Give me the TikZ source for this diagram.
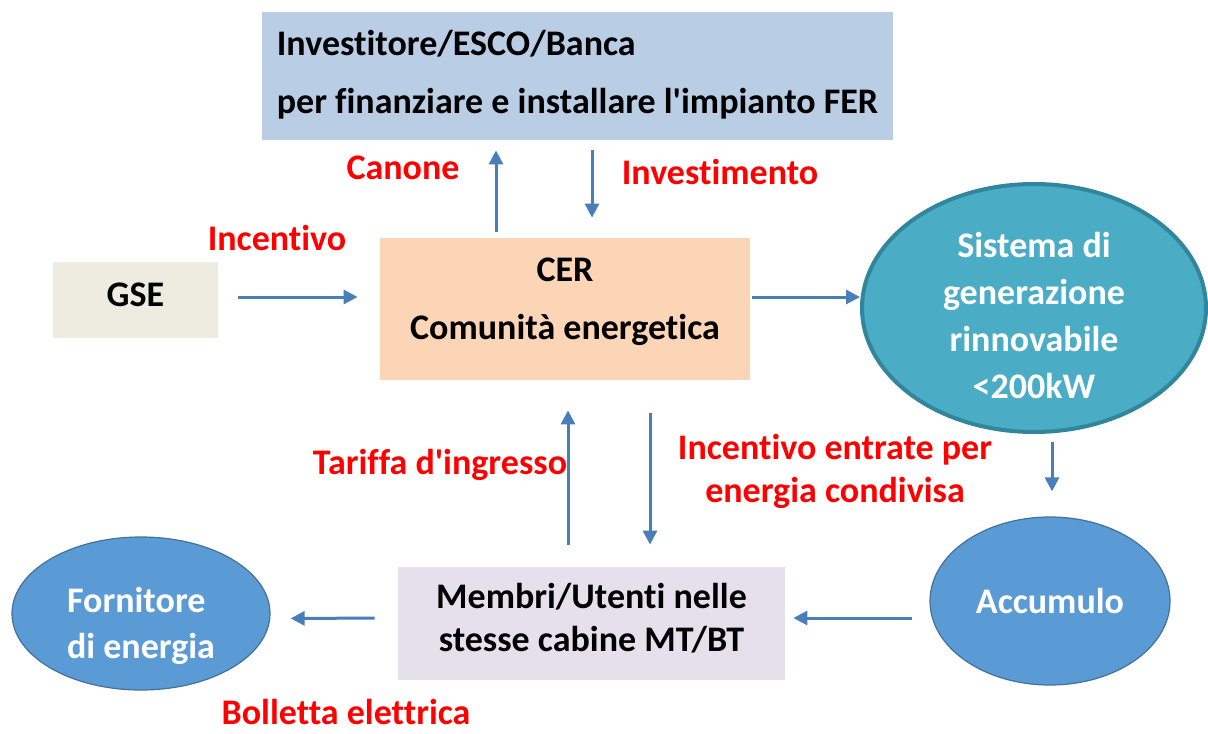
\documentclass[tikz,border=0pt]{standalone}
\usepackage{fontspec}
\setmainfont{Carlito}[Ligatures=NoCommon]
\usetikzlibrary{arrows.meta,shapes.geometric,positioning}

\definecolor{topblue}{HTML}{B9CDE5}
\definecolor{gsebeige}{HTML}{EEECE1}
\definecolor{cerpeach}{HTML}{FBD5B5}
\definecolor{memblilac}{HTML}{E6E0EC}
\definecolor{genteal}{HTML}{4BACC6}
\definecolor{genedge}{HTML}{31859C}
\definecolor{ovalblue}{HTML}{5B9BD5}
\definecolor{ovaledge}{HTML}{41719C}
\definecolor{arrowblue}{HTML}{4A7EBB}

\begin{document}
\begin{tikzpicture}[x=0.5pt, y=-0.5pt, >={Triangle[length=7pt,width=7pt]}, font=\bfseries\fontsize{18}{21.5}\selectfont]

    \tikzstyle{box} = [rectangle, inner sep=0pt, align=center]
    \tikzstyle{oval} = [ellipse, inner sep=0pt]
    \tikzstyle{flow} = [->, draw=arrowblue, fill=arrowblue, line width=1.5pt]
    \tikzstyle{money} = [text=red, align=center]

    \useasboundingbox (0,0) rectangle (1208,733);

    \node (bank)  [box, fill=topblue, minimum width=315.5pt, minimum height=64pt,
                   label={[align=left, yshift=0.5pt, font=\bfseries\fontsize{18}{29}\selectfont]center:{Investitore/ESCO/Banca\\per finanziare e installare l\textquotesingle impianto FER}}] at (577.5,76) {};

    \node (gse)   [box, fill=gsebeige, minimum width=82.5pt, minimum height=38pt,
                   label={[yshift=2.5pt]center:GSE}] at (135.5,300) {};

    \node (cer)   [box, fill=cerpeach, minimum width=185pt, minimum height=71pt,
                   label={[align=center, yshift=3.5pt, font=\bfseries\fontsize{18}{29}\selectfont]center:{CER\\Comunità energetica}}] at (565,309) {};

    \node (memb)  [box, fill=memblilac, minimum width=193.5pt, minimum height=56.5pt,
                   label={[align=center, yshift=2.5pt]center:{Membri/Utenti nelle\\stesse cabine MT/BT}}] at (591.5,623.5) {};

    \node (gen)   [oval, fill=genteal, draw=genedge, line width=2pt, minimum width=172pt, minimum height=124pt,
                   label={[text=white, align=center, yshift=-3.5pt, font=\bfseries\fontsize{18}{23.5}\selectfont]center:{Sistema di\\generazione\\rinnovabile\\<200kW}}] at (1034,308) {};

    \node (acc)   [oval, fill=ovalblue, draw=ovaledge, line width=0.6pt, minimum width=120pt, minimum height=84pt,
                   label={[text=white]center:Accumulo}] at (1050,601) {};

    \node (forn)  [oval, fill=ovalblue, draw=ovaledge, line width=0.6pt, minimum width=129pt, minimum height=76.5pt,
                   label={[text=white, align=left, yshift=-6pt, font=\bfseries\fontsize{18}{23}\selectfont]center:{Fornitore\\di energia}}] at (141,613.5) {};

    % flussi
    \draw[flow, shorten <=10pt, shorten >=11pt] ([yshift=1.5pt]gse.east) -- ([yshift=6pt]cer.west);
    \draw[flow, shorten <=1pt] ([yshift=6pt]cer.east) -- ([yshift=5.5pt]gen.west);
    \draw[flow, shorten <=3pt, shorten >=5pt] ([xshift=-34.5pt]cer.north) -- ([xshift=-34.5pt]cer.north |- bank.south);
    \draw[flow, shorten <=5pt, shorten >=10pt] ([xshift=13.5pt]cer.north |- bank.south) -- ([xshift=13.5pt]cer.north);
    \draw[flow, shorten <=4pt, shorten >=12.5pt] ([xshift=9pt]gen.south) -- ([xshift=9pt]gen.south |- acc.north);
    \draw[flow, shorten <=11pt, shorten >=15pt] ([xshift=-11.75pt]memb.north) -- ([xshift=-11.75pt]memb.north |- cer.south);
    \draw[flow, shorten <=16.5pt, shorten >=11pt] ([xshift=29.25pt]memb.north |- cer.south) -- ([xshift=29.25pt]memb.north);
    \draw[flow, shorten <=8.5pt, shorten >=4pt] ([yshift=-8.5pt]acc.west) -- ([yshift=2.75pt]memb.east);
    \draw[flow, shorten <=11.5pt, shorten >=10pt] ([yshift=2.75pt]memb.west) -- ([yshift=-2.5pt]forn.east);

    % etichette
    \node (canone)   [money] at (403,168) {Canone};
    \node (invest)   [money] at (720,172) {Investimento};
    \node (incent)   [money] at (277,238) {Incentivo};
    \node (tariffa)  [money] at (440,465) {Tariffa d\textquotesingle ingresso};
    \node (condiv)   [money] at (835,471.5) {Incentivo entrate per\\energia condivisa};
    \node (bolletta) [money] at (346,712) {Bolletta elettrica};
\end{tikzpicture}
\end{document}
